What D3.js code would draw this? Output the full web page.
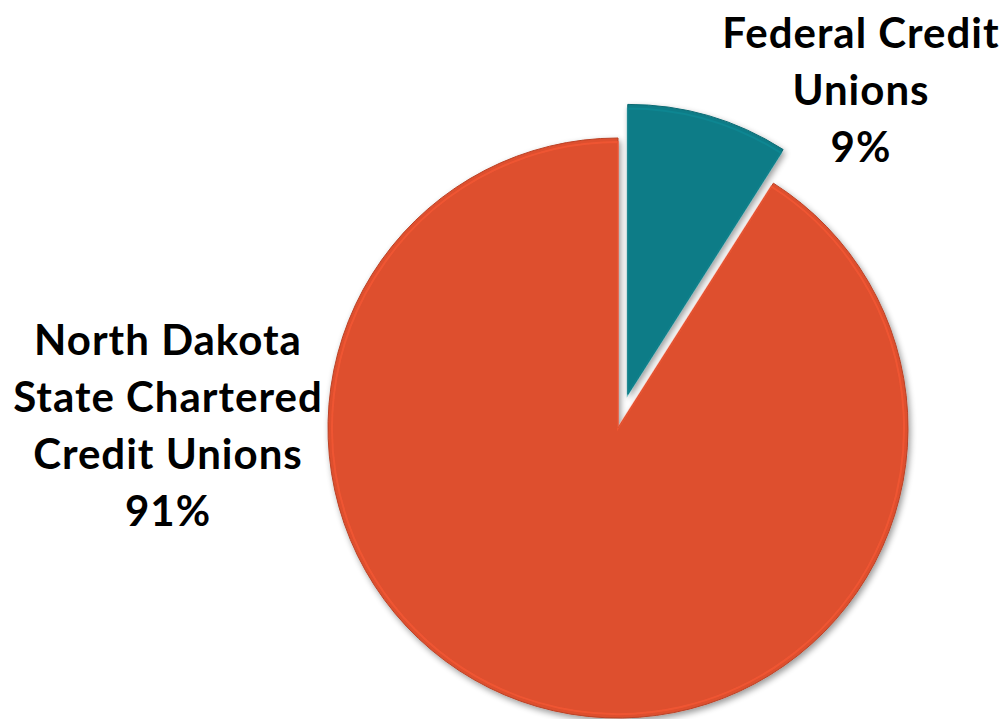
<!DOCTYPE html>
<html>
<head>
<meta charset="utf-8">
<title>Credit Union Charters</title>
<script src="https://d3js.org/d3.v7.min.js"></script>
<style>
  body { margin: 0; background: #fff; }
  svg { display: block; }
  .lbl { font-family: Lato, "Open Sans", sans-serif; font-weight: bold; font-size: 42px; letter-spacing: 1px; fill: #000; }
</style>
</head>
<body>
<svg width="1005" height="719"></svg>
<script>
// chart data
const categories = ["Federal Credit Unions", "North Dakota State Chartered Credit Unions"];
const values = [9, 91];
const colors = ["#0a7c87", "#de4f2e"];
const labelLines = [
  ["Federal Credit", "Unions", "9%"],
  ["North Dakota", "State Chartered", "Credit Unions", "91%"]
];

const width = 1005, height = 719;
const cx = 618, cy = 428, radius = 290;
const explode = 35;

const svg = d3.select("svg");
const defs = svg.append("defs");

// soft shadow under slices
const shadow = defs.append("filter").attr("id", "shadow")
  .attr("x", "-10%").attr("y", "-10%").attr("width", "130%").attr("height", "130%");
shadow.append("feGaussianBlur").attr("in", "SourceAlpha").attr("stdDeviation", 3).attr("result", "b");
shadow.append("feOffset").attr("in", "b").attr("dx", 2).attr("dy", 3).attr("result", "o");
shadow.append("feComponentTransfer").attr("in", "o").attr("result", "s")
  .append("feFuncA").attr("type", "linear").attr("slope", 0.4);
const merge = shadow.append("feMerge");
merge.append("feMergeNode").attr("in", "s");
merge.append("feMergeNode").attr("in", "SourceGraphic");

const pie = d3.pie().sort(null).value(d => d)(values);
const arc = d3.arc().innerRadius(0).outerRadius(radius);

const g = svg.append("g").attr("transform", `translate(${cx},${cy})`);

const slices = g.selectAll("g.slice")
  .data(pie)
  .join("g")
  .attr("class", "slice")
  .attr("filter", "url(#shadow)")
  .attr("transform", (d, i) => {
    if (i !== 0) return null;
    const a = (d.startAngle + d.endAngle) / 2;
    return `translate(${Math.sin(a) * explode},${-Math.cos(a) * explode})`;
  });

slices.append("path")
  .attr("d", arc)
  .attr("fill", (d, i) => colors[i])
  .attr("stroke", (d, i) => d3.color(colors[i]).darker(0.5))
  .attr("stroke-width", 1);

// thin light rim just inside the edge for the bevel look
slices.append("path")
  .attr("d", d3.arc().innerRadius(0).outerRadius(radius - 4))
  .attr("fill", "none")
  .attr("stroke", (d, i) => d3.color(colors[i]).brighter(0.4))
  .attr("stroke-opacity", 0.5)
  .attr("stroke-width", 2);

// labels
const labelPos = [
  { x: 861, y: 48 },
  { x: 168, y: 355 }
];
const lineH = 57;
labelLines.forEach((lines, i) => {
  const t = svg.append("text").attr("class", "lbl").attr("text-anchor", "middle");
  lines.forEach((s, k) => {
    t.append("tspan").attr("x", labelPos[i].x).attr("y", labelPos[i].y + k * lineH).text(s);
  });
});
</script>
</body>
</html>
